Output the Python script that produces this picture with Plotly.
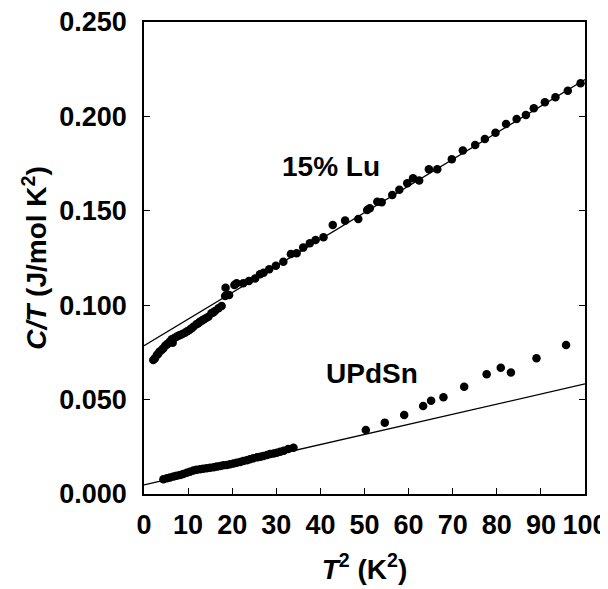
import plotly.graph_objects as go

# ---- data ----
lu_t2 = [2.1, 2.5, 2.9, 3.2, 3.5, 4.0, 4.4, 4.8, 5.2, 5.5, 5.9, 6.3, 6.5, 6.9, 7.4, 7.8,
         8.2, 8.7, 9.3, 9.8, 10.3, 10.8, 11.2, 11.9, 12.3, 12.7, 13.2, 13.6, 14.1, 14.6,
         15.3, 15.7, 16.1, 16.9, 17.6, 18.4, 18.5, 19.3, 20.5, 21.0, 22.5, 23.8, 25.2,
         26.3, 27.1, 28.4, 29.9, 31.6, 33.3, 34.6, 36.1, 37.6, 38.9, 40.7, 42.8, 45.6,
         48.6, 50.6, 51.2, 52.9, 53.9, 56.3, 57.9, 59.7, 61.0, 62.4, 64.6, 66.5, 69.8,
         72.3, 75.1, 77.3, 79.7, 82.1, 84.5, 86.6, 88.4, 90.9, 93.3, 96.1, 99.0]
lu_ct = [0.0710, 0.0719, 0.0736, 0.0742, 0.0754, 0.0763, 0.0772, 0.0785, 0.0792, 0.0798,
         0.0808, 0.0819, 0.0801, 0.0826, 0.0833, 0.0838, 0.0842, 0.0848, 0.0854, 0.0862,
         0.0869, 0.0878, 0.0886, 0.0899, 0.0905, 0.0913, 0.0919, 0.0925, 0.0932, 0.0939,
         0.0957, 0.0962, 0.0969, 0.0984, 0.0996, 0.1049, 0.1093, 0.1054, 0.1107, 0.1116,
         0.1116, 0.1128, 0.1142, 0.1164, 0.1172, 0.1190, 0.1209, 0.1230, 0.1271, 0.1275,
         0.1305, 0.1328, 0.1345, 0.1360, 0.1425, 0.1448, 0.1457, 0.1504, 0.1513, 0.1548,
         0.1545, 0.1584, 0.1612, 0.1646, 0.1672, 0.1660, 0.1720, 0.1720, 0.1773, 0.1819,
         0.1849, 0.1880, 0.1914, 0.1960, 0.1986, 0.2007, 0.2043, 0.2075, 0.2101, 0.2136,
         0.2175]

updsn_t2 = [4.4, 5.2, 5.9, 6.7, 7.4, 8.2, 8.9, 9.7, 10.4, 11.2, 11.9, 12.7, 13.4, 14.2,
            15.0, 15.8, 16.5, 17.3, 18.0, 18.8, 19.5, 20.3, 21.0, 21.8, 22.5, 23.3, 24.0,
            24.8, 25.6, 26.4, 27.1, 27.9, 28.6, 29.4, 30.1, 30.9, 31.7, 32.7, 33.9,
            50.3, 54.6, 59.0, 63.3, 65.1, 67.9, 72.6, 77.7, 80.9, 83.2, 89.0, 95.7]
updsn_ct = [0.0078, 0.0083, 0.0088, 0.0093, 0.0097, 0.0101, 0.0106, 0.0112, 0.0118, 0.0124,
            0.0129, 0.0131, 0.0134, 0.0136, 0.0139, 0.0142, 0.0145, 0.0148, 0.0152, 0.0154,
            0.0157, 0.0161, 0.0166, 0.0170, 0.0175, 0.0179, 0.0184, 0.0189, 0.0194, 0.0197,
            0.0201, 0.0206, 0.0212, 0.0215, 0.0219, 0.0224, 0.0229, 0.0238, 0.0245,
            0.0339, 0.0378, 0.0418, 0.0466, 0.0494, 0.0512, 0.0568, 0.0634, 0.0669, 0.0643,
            0.0719, 0.0789]

# linear fits C/T = gamma + beta*T^2
fit_names = ["15% Lu", "UPdSn"]
fit_gamma = [0.0785, 0.0048]
fit_beta = [0.00141, 0.000535]
fit_t2 = [0, 100]

x_ticks = list(range(0, 101, 10))
y_ticks = [0.0, 0.05, 0.10, 0.15, 0.20, 0.25]

FONT = "Liberation Sans, Arial, Helvetica, sans-serif"

fig = go.Figure()
for g, b in zip(fit_gamma, fit_beta):
    fig.add_trace(go.Scatter(x=fit_t2, y=[g + b * t for t in fit_t2], mode="lines",
                             line=dict(color="black", width=1.3), hoverinfo="skip"))
fig.add_trace(go.Scatter(x=lu_t2, y=lu_ct, mode="markers",
                         marker=dict(color="black", size=8.5), name="15% Lu"))
fig.add_trace(go.Scatter(x=updsn_t2, y=updsn_ct, mode="markers",
                         marker=dict(color="black", size=8.5), name="UPdSn"))

fig.add_annotation(x=42.5, y=0.1737, text="<b>15% Lu</b>", showarrow=False,
                   font=dict(family=FONT, size=28, color="black"))
fig.add_annotation(x=51.6, y=0.0639, text="<b>UPdSn</b>", showarrow=False,
                   font=dict(family=FONT, size=28, color="black"))

axis_common = dict(showgrid=False, zeroline=False, showline=True, linecolor="black",
                   linewidth=1.5, ticks="inside", ticklen=6, tickwidth=1.2,
                   tickcolor="black", automargin=False, ticklabeloverflow="allow",
                   tickfont=dict(family=FONT, size=27, color="black", weight="bold"))

fig.update_xaxes(range=[0, 100], tickvals=x_ticks, mirror=True, ticklabelstandoff=6,
                 title=dict(text="<b><i>T</i><sup>2</sup> (K<sup>2</sup>)</b>", standoff=20,
                            font=dict(family=FONT, size=28, color="black")),
                 **axis_common)
fig.update_yaxes(range=[0, 0.25], tickvals=y_ticks, tickformat=".3f", mirror="ticks",
                 ticklabelstandoff=10,
                 title=dict(text="<b><i>C/T</i> (J/mol K<sup>2</sup>)</b>", standoff=4,
                            font=dict(family=FONT, size=28, color="black")),
                 **axis_common)

# page body adds an 8px offset, so the figure is sized/margined to compensate
fig.update_layout(width=608, height=581, showlegend=False,
                  margin=dict(l=136, r=31, t=14, b=95),
                  plot_bgcolor="white", paper_bgcolor="white")

fig.write_html("out.html")
